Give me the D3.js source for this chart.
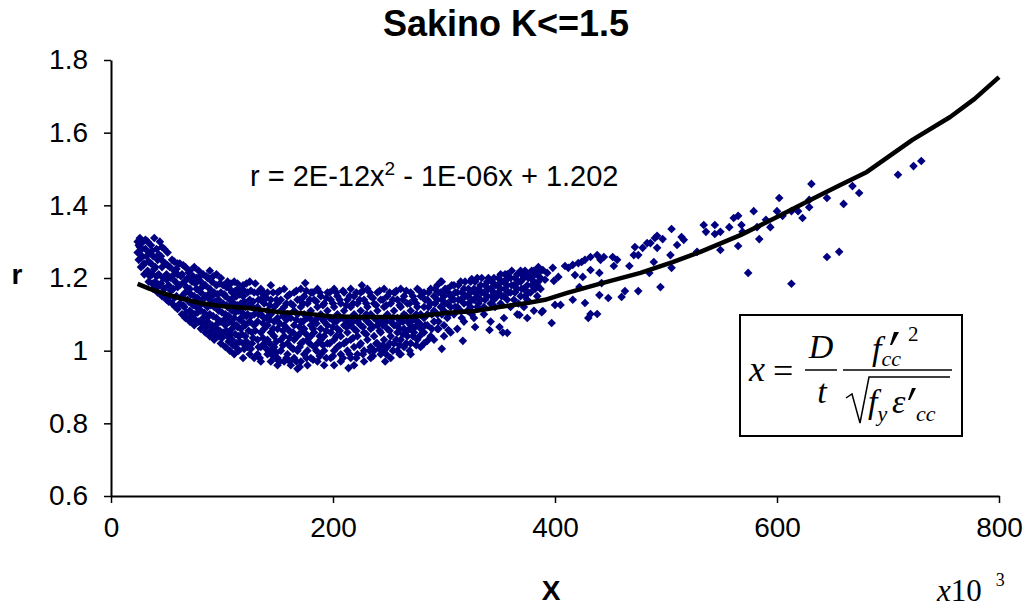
<!DOCTYPE html>
<html>
<head>
<meta charset="utf-8">
<script src="https://cdn.jsdelivr.net/npm/d3@7"></script>
<style>
  body { margin: 0; background: #fff; }
  svg { font-family: "Liberation Sans", Arial, sans-serif; }
  .math { font-family: "Liberation Serif", "Times New Roman", serif; }
</style>
</head>
<body>
<svg id="chart" width="1026" height="608"></svg>
<script>
// axis ticks
const xTicks = [0, 200, 400, 600, 800];
const yTicks = [0.6, 0.8, 1, 1.2, 1.4, 1.6, 1.8];

// trend line (x in 10^3, r)
const trendX = [24, 35, 49, 62, 80, 98, 125, 152, 170, 197, 224, 260, 278, 301, 328, 350, 375, 391, 411, 440, 477, 506, 531, 567, 600, 630, 657, 681, 722, 756, 778, 800];
const trendR = [1.184, 1.170, 1.156, 1.145, 1.131, 1.123, 1.117, 1.106, 1.104, 1.095, 1.093, 1.093, 1.095, 1.104, 1.109, 1.120, 1.131, 1.140, 1.159, 1.184, 1.214, 1.244, 1.272, 1.318, 1.368, 1.415, 1.456, 1.492, 1.580, 1.643, 1.693, 1.753];

// scatter, read in strips from left to right
const cloudLeft = [
  [24,1.30],[24,1.27],[25,1.29],[25,1.25],[26,1.31],[27,1.23],[28,1.28],[28,1.26],[29,1.30],[30,1.24],[30,1.21],
  [31,1.28],[32,1.26],[33,1.30],[33,1.22],[34,1.19],[35,1.27],[36,1.24],[36,1.29],[37,1.21],[38,1.17],[38,1.26],
  [39,1.31],[40,1.23],[40,1.19],[41,1.28],[42,1.25],[42,1.16],[43,1.21],[44,1.30],[44,1.18],[45,1.26],[46,1.23],
  [46,1.15],[47,1.20],[48,1.28],[48,1.17],[49,1.24],[50,1.14],[50,1.21],[51,1.27],[52,1.18],[53,1.23],[53,1.15],
  [54,1.20],[55,1.25],[55,1.13],[56,1.17],[57,1.22],[58,1.19],[58,1.12],[59,1.15],[60,1.24],[60,1.21],
  [62,1.24],[62,1.18],[62,1.13],[64,1.21],[64,1.15],[64,1.10],[66,1.19],[66,1.12],[67,1.23],[67,1.16],[67,1.09],
  [69,1.20],[69,1.14],[71,1.22],[71,1.17],[71,1.11],[71,1.08],[73,1.19],[73,1.13],[75,1.23],[75,1.15],[75,1.10],
  [75,1.07],[77,1.20],[77,1.17],[77,1.12],[79,1.22],[79,1.14],[79,1.08],[81,1.19],[81,1.16],[81,1.11],[81,1.06],
  [83,1.21],[83,1.13],[83,1.09],[85,1.18],[85,1.15],[85,1.05],[87,1.20],[87,1.12],[87,1.08],[89,1.22],[89,1.17],
  [89,1.14],[89,1.10],[89,1.04],[91,1.19],[91,1.15],[91,1.07],[93,1.16],[93,1.12],[93,1.03],[95,1.21],[95,1.18],
  [95,1.09],[95,1.06],[97,1.14],[97,1.11],[97,1.04],[99,1.20],[99,1.16],[99,1.08],[99,1.02],[101,1.18],[101,1.13],
  [101,1.05],[103,1.15],[103,1.10],[103,1.01],[103,1.07],[105,1.19],[105,1.12],[105,1.04],[107,1.17],[107,1.14],
  [107,1.08],[107,1.00],[109,1.16],[109,1.11],[109,1.06],[109,1.03],[111,1.19],[111,1.13],[111,1.09],[111,0.99],
  [113,1.15],[113,1.07],[113,1.02],[115,1.17],[115,1.11],[115,1.04],[115,1.00],[117,1.13],[117,1.09],[117,1.06],
  [119,1.18],[119,1.15],[119,1.02],[119,0.98],[121,1.12],[121,1.07],[121,1.04],[123,1.16],[123,1.10],[123,1.01],
  [125,1.19],[125,1.14],[125,1.08],[125,0.99],[127,1.12],[127,1.05],[127,1.02],[129,1.16],[129,1.10],[129,1.07],[129,0.98]
];

const cloudMid = [
  [132,1.16],[132,1.12],[132,1.08],[132,1.03],[132,0.99],[135,1.17],[135,1.14],[135,1.10],[135,1.05],[135,1.01],[135,0.97],
  [138,1.13],[138,1.09],[138,1.06],[138,1.02],[141,1.16],[141,1.11],[141,1.07],[141,1.03],[141,0.99],
  [144,1.18],[144,1.14],[144,1.10],[144,1.05],[144,1.00],[144,0.97],[147,1.12],[147,1.08],[147,1.04],[147,1.01],
  [150,1.16],[150,1.13],[150,1.09],[150,1.06],[150,0.98],[150,0.96],[153,1.14],[153,1.11],[153,1.03],[153,1.00],
  [156,1.17],[156,1.12],[156,1.07],[156,1.04],[156,0.97],[159,1.15],[159,1.10],[159,1.06],[159,1.02],[159,0.99],
  [162,1.13],[162,1.09],[162,1.05],[162,1.01],[162,0.96],[165,1.16],[165,1.11],[165,1.07],[165,1.03],[165,0.98],
  [168,1.14],[168,1.10],[168,1.04],[168,1.00],[168,0.95],[171,1.17],[171,1.12],[171,1.08],[171,1.05],[171,1.02],[171,0.97],
  [174,1.15],[174,1.10],[174,1.06],[174,0.99],[177,1.13],[177,1.09],[177,1.03],[177,1.00],[177,0.96],
  [180,1.16],[180,1.11],[180,1.07],[180,1.04],[180,0.98],[183,1.14],[183,1.08],[183,1.05],[183,1.01],
  [186,1.17],[186,1.12],[186,1.09],[186,1.02],[186,0.97],[189,1.15],[189,1.10],[189,1.06],[189,1.03],[189,0.99],
  [192,1.13],[192,1.08],[192,1.04],[192,1.00],[192,0.96],[195,1.16],[195,1.11],[195,1.07],[195,1.02],
  [198,1.14],[198,1.09],[198,1.05],[198,0.98],[201,1.17],[201,1.12],[201,1.08],[201,1.03],[201,1.00],[201,0.96],
  [204,1.15],[204,1.10],[204,1.06],[204,1.01],[207,1.13],[207,1.09],[207,1.04],[207,0.99],[207,0.97],
  [210,1.16],[210,1.11],[210,1.07],[210,1.02],[213,1.14],[213,1.08],[213,1.05],[213,1.00],
  [216,1.17],[216,1.12],[216,1.09],[216,1.03],[216,0.98],[219,1.15],[219,1.10],[219,1.06],[219,1.01],[219,0.96],
  [222,1.13],[222,1.08],[222,1.04],[222,0.99],[225,1.16],[225,1.11],[225,1.07],[225,1.02],
  [228,1.14],[228,1.09],[228,1.05],[228,1.00],[228,0.97],[231,1.17],[231,1.12],[231,1.08],[231,1.03],
  [234,1.15],[234,1.10],[234,1.06],[234,1.01],[234,0.98],[237,1.13],[237,1.09],[237,1.04],[237,1.00],
  [240,1.16],[240,1.11],[240,1.07],[240,1.02],[243,1.14],[243,1.08],[243,1.05],[243,0.99],
  [246,1.17],[246,1.12],[246,1.09],[246,1.03],[246,1.00],[249,1.15],[249,1.10],[249,1.06],[249,1.01],
  [252,1.13],[252,1.08],[252,1.04],[252,0.98],[255,1.16],[255,1.11],[255,1.07],[255,1.02],
  [258,1.14],[258,1.09],[258,1.05],[258,1.00],[261,1.17],[261,1.12],[261,1.08],[261,1.03],[261,0.99],
  [264,1.15],[264,1.10],[264,1.06],[264,1.01],[267,1.13],[267,1.08],[267,1.04],
  [270,1.16],[270,1.11],[270,1.07],[270,1.02],[270,0.99],[273,1.14],[273,1.09],[273,1.05],
  [276,1.17],[276,1.12],[276,1.08],[276,1.03],[279,1.15],[279,1.10],[279,1.06],[279,1.01]
];

// points sitting in the gaps of the strips above
const cloudFill = [
  [26,1.285],[27,1.255],[29,1.235],[31,1.305],[32,1.215],[34,1.245],[35,1.205],[37,1.275],[37,1.185],[39,1.225],
  [41,1.205],[41,1.175],[43,1.265],[45,1.185],[46,1.285],[47,1.245],[48,1.155],[50,1.195],[51,1.235],[52,1.135],
  [54,1.165],[55,1.205],[57,1.145],[57,1.245],[59,1.225],[60,1.175],[60,1.115],
  [63,1.205],[63,1.145],[65,1.235],[65,1.125],[68,1.175],[68,1.105],[70,1.215],[70,1.135],[72,1.155],[72,1.095],
  [74,1.205],[74,1.125],[76,1.185],[76,1.085],[78,1.145],[78,1.105],[80,1.205],[80,1.125],[82,1.175],[82,1.075],
  [84,1.145],[84,1.105],[86,1.205],[86,1.065],[88,1.155],[88,1.095],[90,1.125],[90,1.055],[92,1.205],[92,1.095],
  [94,1.135],[94,1.045],[96,1.155],[96,1.075],[98,1.185],[98,1.125],[98,1.055],[100,1.105],[100,1.035],[102,1.155],
  [102,1.085],[104,1.175],[104,1.125],[104,1.055],[106,1.095],[106,1.025],[108,1.185],[108,1.125],[108,1.045],
  [110,1.145],[110,1.075],[110,1.015],[112,1.165],[112,1.105],[112,1.045],[114,1.185],[114,1.125],[114,1.065],
  [114,1.005],[116,1.155],[116,1.085],[116,1.025],[118,1.105],[118,1.045],[120,1.165],[120,1.135],[120,1.075],
  [120,1.005],[122,1.185],[122,1.095],[122,1.025],[124,1.125],[124,1.055],[126,1.165],[126,1.095],[126,1.005],
  [128,1.135],[128,1.035],[130,1.185],[130,1.115],[130,1.055],
  [133,1.14],[133,1.10],[133,1.01],[137,1.155],[137,1.075],[137,1.035],[140,1.145],[140,1.09],[140,1.005],
  [143,1.125],[143,1.085],[143,1.02],[146,1.16],[146,1.06],[146,0.985],[149,1.14],[149,1.025],[149,0.995],
  [152,1.165],[152,1.075],[152,0.97],[155,1.095],[155,1.055],[155,1.015],[158,1.13],[158,1.085],[158,0.98],
  [161,1.155],[161,1.035],[161,0.97],[164,1.125],[164,1.05],[164,1.005],[167,1.165],[167,1.085],[167,0.97],
  [170,1.14],[170,1.065],[170,1.01],[173,1.13],[173,1.08],[173,1.025],[176,1.165],[176,1.045],[176,0.98],
  [179,1.14],[179,1.09],[179,1.02],[182,1.16],[182,1.06],[182,0.975],[185,1.135],[185,1.075],[185,1.00],
  [188,1.16],[188,1.04],[188,0.985],[191,1.125],[191,1.085],[191,1.015],[194,1.145],[194,1.055],[194,0.98],
  [197,1.16],[197,1.09],[197,1.02],[200,1.13],[200,1.065],[200,0.985],[203,1.16],[203,1.08],[203,1.04],
  [206,1.14],[206,1.055],[206,1.015],[209,1.165],[209,1.09],[209,0.98],[212,1.125],[212,1.065],[212,1.025],
  [215,1.15],[215,1.07],[215,0.99],[218,1.13],[218,1.08],[218,1.035],[221,1.16],[221,1.055],[221,0.98],
  [224,1.14],[224,1.09],[224,1.015],[227,1.165],[227,1.065],[227,0.99],[230,1.13],[230,1.10],[230,1.045],
  [233,1.16],[233,1.075],[233,1.00],[236,1.145],[236,1.065],[236,0.985],[239,1.125],[239,1.085],[239,1.02],
  [242,1.165],[242,1.055],[242,1.005],[245,1.14],[245,1.07],[245,1.015],[248,1.125],[248,1.08],[248,0.99],
  [251,1.16],[251,1.055],[251,1.02],[254,1.14],[254,1.09],[254,1.00],[257,1.165],[257,1.07],[257,1.03],
  [260,1.125],[260,1.06],[260,1.015],[263,1.14],[263,1.08],[263,1.045],[266,1.165],[266,1.095],[266,1.02],
  [269,1.13],[269,1.06],[269,1.00],[272,1.15],[272,1.085],[272,1.04],[275,1.13],[275,1.10],[275,1.015],
  [278,1.165],[278,1.075],[278,1.04],
  [283,1.14],[283,1.07],[286,1.16],[286,1.12],[289,1.10],[289,1.06],[292,1.17],[292,1.13],[295,1.16],[295,1.08],
  [298,1.14],[298,1.10],[301,1.17],[301,1.13],[304,1.16],[304,1.10],[307,1.18],[307,1.14],[310,1.16],[310,1.12],
  [313,1.18],[313,1.14],[316,1.16],[316,1.09],[319,1.19],[319,1.15],[322,1.17],[322,1.13],[325,1.14],[325,1.10],
  [328,1.19],[328,1.16],[331,1.17],[331,1.13],[334,1.20],[334,1.16],[337,1.18],[337,1.14],[340,1.20],[340,1.17],
  [343,1.19],[343,1.15],[346,1.18],[346,1.12],[349,1.20],[349,1.16],[352,1.19],[352,1.15],[355,1.21],[355,1.17],
  [358,1.20],[358,1.16],[361,1.22],[361,1.18],[364,1.20],[364,1.16],[367,1.19],[367,1.13],[370,1.21],[370,1.17],
  [373,1.22],[373,1.15],[376,1.20],[376,1.16],[379,1.22],[379,1.18],[382,1.21],[382,1.17],[385,1.23],[385,1.19]
];

const cloudRight = [
  [282,1.16],[282,1.12],[282,1.09],[282,1.05],[282,1.02],[285,1.14],[285,1.10],[285,1.07],[288,1.17],[288,1.13],[288,1.04],
  [291,1.15],[291,1.11],[291,1.08],[291,1.03],[294,1.18],[294,1.14],[294,1.10],[294,1.06],[297,1.19],[297,1.16],[297,1.12],
  [300,1.15],[300,1.11],[300,1.07],[300,1.04],[303,1.17],[303,1.13],[303,1.09],[306,1.15],[306,1.12],[306,1.05],
  [309,1.18],[309,1.14],[309,1.10],[312,1.16],[312,1.12],[312,1.06],[315,1.19],[315,1.14],[315,1.11],
  [318,1.17],[318,1.13],[318,1.08],[321,1.15],[321,1.11],[324,1.19],[324,1.16],[324,1.12],
  [327,1.17],[327,1.14],[327,1.09],[330,1.20],[330,1.15],[330,1.12],[333,1.18],[333,1.14],
  [336,1.16],[336,1.12],[336,1.10],[339,1.19],[339,1.15],[342,1.17],[342,1.13],[342,1.08],
  [345,1.20],[345,1.16],[345,1.14],[348,1.18],[348,1.15],[351,1.21],[351,1.17],[351,1.13],
  [354,1.19],[354,1.15],[354,1.09],[357,1.21],[357,1.18],[357,1.14],[360,1.20],[360,1.16],[360,1.12],
  [363,1.18],[363,1.14],[366,1.21],[366,1.17],[366,1.10],[369,1.22],[369,1.19],[369,1.15],
  [372,1.20],[372,1.17],[372,1.12],[375,1.21],[375,1.18],[375,1.14],[378,1.20],[378,1.16],
  [381,1.22],[381,1.19],[381,1.11],[384,1.21],[384,1.18],[384,1.15],[387,1.22],[387,1.20],[387,1.17]
];

const bandUpper = [
  [389,1.222],[393,1.214],[391,1.195],[398,1.228],[399,1.192],[403,1.203],[409,1.233],[412,1.228],[416,1.236],
  [421,1.241],[424,1.244],[427,1.250],[432,1.258],[438,1.263],[441,1.250],[444,1.258],[432,1.222],[440,1.214],
  [418,1.208],[425,1.203],[422,1.175],[442,1.186],[416,1.140],[427,1.131],[440,1.153],[448,1.145],[400,1.126],
  [405,1.126],[389,1.109],[432,1.101],[438,1.101],[430,1.090],[452,1.258],[456,1.250],[453,1.233],[460,1.148],
  [463,1.164],[467,1.233],[472,1.285],[475,1.263],[471,1.263],[475,1.164],[479,1.283],[483,1.296],[486,1.296],
  [490,1.310],[492,1.316],[492,1.283],[489,1.244],[485,1.214],[495,1.175],[497,1.307],[504,1.263],[505,1.335],
  [505,1.228],[510,1.291],[514,1.313],[516,1.305],[528,1.272]
];

const lowOutliers = [
  [134,0.98],[150,0.975],[170,0.955],[214,0.952],[247,0.97],[260,0.99],[265,1.05],[274,1.065],[285,1.027],
  [295,1.06],[298,1.005],[304,1.057],[317,1.027],[328,1.065],[341,1.057],[350,1.065],[353,1.05],[357,1.049],
  [368,1.098],[375,1.09],[388,1.106],[397,1.076]
];
const highOutliers = [[136,1.165],[175,1.186],[181,1.16],[226,1.18],[256,1.16],[298,1.19],[325,1.197]];

const farPoints = [
  [534,1.346],[536,1.327],[544,1.346],[544,1.321],[549,1.327],[549,1.277],[557,1.340],[561,1.365],[565,1.371],
  [568,1.346],[569,1.327],[565,1.288],[574,1.214],[579,1.384],[582,1.340],[584,1.307],[590,1.360],[594,1.340],
  [600,1.384],[602,1.420],[605,1.371],[613,1.384],[613,1.184],[619,1.384],[623,1.365],[629,1.415],[629,1.395],
  [631,1.459],[645,1.420],[645,1.258],[656,1.272],[660,1.404],[668,1.453],[674,1.434],[709,1.484],[723,1.508],[730,1.522]
];

const points = [].concat(cloudLeft, cloudMid, cloudFill, cloudRight, bandUpper, lowOutliers, highOutliers, farPoints);

const svg = d3.select("#chart");
const x = d3.scaleLinear().domain([0, 800]).range([111, 999]);
const y = d3.scaleLinear().domain([0.6, 1.8]).range([496, 60]);

// y axis
const yAxis = svg.append("g")
    .attr("transform", "translate(111,0)")
    .call(d3.axisLeft(y).tickValues(yTicks).tickSize(7).tickSizeOuter(0).tickPadding(16)
        .tickFormat(d => String(+d.toFixed(1))));
// x axis
const xAxis = svg.append("g")
    .attr("transform", "translate(0,496)")
    .call(d3.axisBottom(x).tickValues(xTicks).tickSize(7).tickSizeOuter(0).tickPadding(14));

[yAxis, xAxis].forEach(a => {
    a.select(".domain").attr("stroke", "#000").attr("stroke-width", 2);
    a.selectAll(".tick line").attr("stroke", "#000").attr("stroke-width", 1.5);
    a.selectAll(".tick text").attr("font-size", 28).attr("fill", "#000")
        .attr("font-family", "Liberation Sans, Arial, sans-serif");
});

// scatter points as diamonds
const diamond = "M0,-4.3L4.3,0L0,4.3L-4.3,0Z";
svg.append("g").selectAll("path")
    .data(points)
    .enter().append("path")
    .attr("d", diamond)
    .attr("transform", d => `translate(${x(d[0])},${y(d[1])})`)
    .attr("fill", "#000080");

// trend line
const trend = trendX.map((v, i) => [v, trendR[i]]);
svg.append("path")
    .datum(trend)
    .attr("fill", "none")
    .attr("stroke", "#000")
    .attr("stroke-width", 4.5)
    .attr("stroke-linejoin", "round")
    .attr("d", d3.line().x(d => x(d[0])).y(d => y(d[1])));

// title
svg.append("text")
    .attr("x", 506).attr("y", 36)
    .attr("text-anchor", "middle")
    .attr("font-size", 36).attr("font-weight", "bold")
    .text("Sakino K<=1.5");

// axis titles
svg.append("text")
    .attr("x", 551).attr("y", 600)
    .attr("text-anchor", "middle")
    .attr("font-size", 28).attr("font-weight", "bold")
    .text("X");
svg.append("text")
    .attr("x", 17).attr("y", 284)
    .attr("text-anchor", "middle")
    .attr("font-size", 28).attr("font-weight", "bold")
    .text("r");

// regression equation
const eq = svg.append("text")
    .attr("x", 250).attr("y", 186)
    .attr("font-size", 29);
eq.append("tspan").text("r = 2E-12x");
eq.append("tspan").attr("font-size", 19).attr("dy", -11).text("2");
eq.append("tspan").attr("dy", 11).text(" - 1E-06x + 1.202");

// x10^3 note
const note = svg.append("text").attr("class", "math")
    .attr("x", 937).attr("y", 601).attr("font-size", 31);
note.append("tspan").attr("font-style", "italic").text("x");
note.append("tspan").text("10");
note.append("tspan").attr("font-size", 18).attr("dx", 14).attr("dy", -15).text("3");

// formula box
const box = svg.append("g").attr("class", "math");
box.append("rect")
    .attr("x", 740).attr("y", 315).attr("width", 222).attr("height", 121)
    .attr("fill", "#fff").attr("stroke", "#000").attr("stroke-width", 2);
box.append("text").attr("x", 749).attr("y", 381).attr("font-size", 36)
    .attr("font-style", "italic").text("x");
box.append("text").attr("x", 773).attr("y", 383).attr("font-size", 36).text("=");
box.append("text").attr("x", 821).attr("y", 358).attr("font-size", 34)
    .attr("font-style", "italic").attr("text-anchor", "middle").text("D");
box.append("text").attr("x", 822).attr("y", 403).attr("font-size", 34)
    .attr("font-style", "italic").attr("text-anchor", "middle").text("t");
box.append("line").attr("x1", 805).attr("x2", 837).attr("y1", 370).attr("y2", 370)
    .attr("stroke", "#000").attr("stroke-width", 1.5);
box.append("line").attr("x1", 843).attr("x2", 952).attr("y1", 370).attr("y2", 370)
    .attr("stroke", "#000").attr("stroke-width", 1.5);

// numerator f'cc^2
const num = box.append("text").attr("x", 872).attr("y", 360).attr("font-size", 34).attr("font-style", "italic");
num.append("tspan").text("f");
num.append("tspan").attr("font-size", 22).attr("dy", 6).text("cc");
box.append("text").attr("x", 908).attr("y", 341).attr("font-size", 21).text("2");
// primes drawn as small strokes
box.append("path").attr("d", "M894,332L899,332L892,345L890,345Z").attr("fill", "#000");
box.append("path").attr("d", "M912,388L916,388L910,400L908,400Z").attr("fill", "#000");

// denominator sqrt(fy e'cc)
box.append("path")
    .attr("d", "M846,398L852,394L860,423L869,377L950,377")
    .attr("fill", "none").attr("stroke", "#000").attr("stroke-width", 1.5);
const den = box.append("text").attr("x", 868).attr("y", 413).attr("font-size", 34).attr("font-style", "italic");
den.append("tspan").text("f");
den.append("tspan").attr("font-size", 22).attr("dy", 8).text("y");
den.append("tspan").attr("x", 892).attr("dy", -8).text("\u03b5");
den.append("tspan").attr("font-size", 22).attr("x", 916).attr("dy", 8).text("cc");
</script>
</body>
</html>
